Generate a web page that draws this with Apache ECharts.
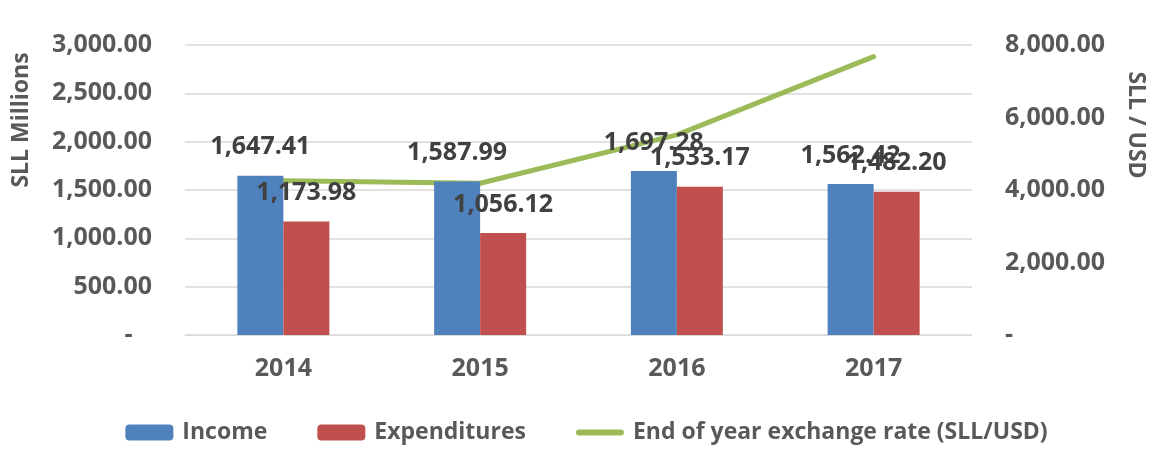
<!DOCTYPE html>
<html>
<head>
<meta charset="utf-8">
<script src="https://cdn.jsdelivr.net/npm/echarts@6/dist/echarts.min.js"></script>
<style>
  html, body { margin: 0; padding: 0; background: #fff; }
  #chart { width: 1173px; height: 461px; }
</style>
</head>
<body>
<div id="chart"></div>
<script>
const years = ['2014', '2015', '2016', '2017']
const income = [1647.41, 1587.99, 1697.28, 1562.42]
const expenditures = [1173.98, 1056.12, 1533.17, 1482.2]
const exchangeRate = [4255, 4185, 5520, 7680]

const FONT = 'Open Sans'
const fmt = function(v) {
  return v.toLocaleString('en-US', { minimumFractionDigits: 2, maximumFractionDigits: 2 })
}
// thick rounded line for the legend, padded so it keeps its height inside the 48x16 box
const lineIcon = 'path://M3,5 L45,5 A3,3 0 0 1 45,11 L3,11 A3,3 0 0 1 3,5 Z M0,0 L0,0 M48,16 L48,16'

const chart = echarts.init(document.getElementById('chart'))
const option = {
  animation: false,
  textStyle: { fontFamily: FONT },
  grid: { left: 185, right: 201, top: 45, bottom: 126 },
  legend: {
    left: 'center',
    top: 416,
    itemWidth: 48,
    itemHeight: 16,
    itemGap: 50,
    textStyle: { fontFamily: FONT, fontSize: 23, fontWeight: 'bold', color: '#595959', padding: [0, 0, 0, 4] },
    data: [
      { name: 'Income' },
      { name: 'Expenditures' },
      { name: 'End of year exchange rate (SLL/USD)', icon: lineIcon }
    ]
  },
  xAxis: {
    type: 'category',
    data: years,
    axisLine: { lineStyle: { color: '#d9d9d9' } },
    axisTick: { show: false },
    axisLabel: { fontSize: 25, fontWeight: 'bold', color: '#595959', margin: 21 }
  },
  yAxis: [
    {
      type: 'value',
      min: 0,
      max: 3000,
      interval: 500,
      name: 'SLL Millions',
      nameLocation: 'middle',
      nameGap: 152,
      nameTextStyle: { fontSize: 23, fontWeight: 'bold', color: '#595959', padding: [0, 0, 0, 140] },
      axisLine: { show: false },
      axisTick: { show: false },
      splitLine: { lineStyle: { color: '#d9d9d9', width: 1.5 } },
      axisLabel: {
        fontSize: 25,
        fontWeight: 'bold',
        color: '#595959',
        margin: 33,
        formatter: function(v) { return v === 0 ? '-   ' : fmt(v) }
      }
    },
    {
      type: 'value',
      min: 0,
      max: 8000,
      interval: 2000,
      name: 'SLL / USD',
      nameLocation: 'middle',
      nameRotate: -90,
      nameGap: 152,
      nameTextStyle: { fontSize: 23, fontWeight: 'bold', color: '#595959', padding: [0, 130, 0, 0] },
      axisLine: { show: false },
      axisTick: { show: false },
      splitLine: { show: false },
      axisLabel: {
        fontSize: 25,
        fontWeight: 'bold',
        color: '#595959',
        margin: 33,
        formatter: function(v) { return v === 0 ? '-' : fmt(v) }
      }
    }
  ],
  series: [
    {
      name: 'Income',
      type: 'bar',
      data: income,
      barWidth: 46,
      barGap: '0%',
      itemStyle: { color: '#4f81bd' },
      label: {
        show: true,
        position: 'top',
        distance: 16,
        fontSize: 25,
        fontWeight: 'bold',
        color: '#404040',
        formatter: function(p) { return fmt(p.value) }
      }
    },
    {
      name: 'Expenditures',
      type: 'bar',
      data: expenditures,
      barWidth: 46,
      itemStyle: { color: '#c0504d' },
      label: {
        show: true,
        position: 'top',
        distance: 16,
        fontSize: 25,
        fontWeight: 'bold',
        color: '#404040',
        formatter: function(p) { return fmt(p.value) }
      }
    },
    {
      name: 'End of year exchange rate (SLL/USD)',
      type: 'line',
      yAxisIndex: 1,
      data: exchangeRate,
      symbol: 'none',
      lineStyle: { color: '#9bbb59', width: 5, cap: 'round' },
      itemStyle: { color: '#9bbb59' },
      z: 1
    }
  ]
}
chart.setOption(option)
</script>
</body>
</html>
